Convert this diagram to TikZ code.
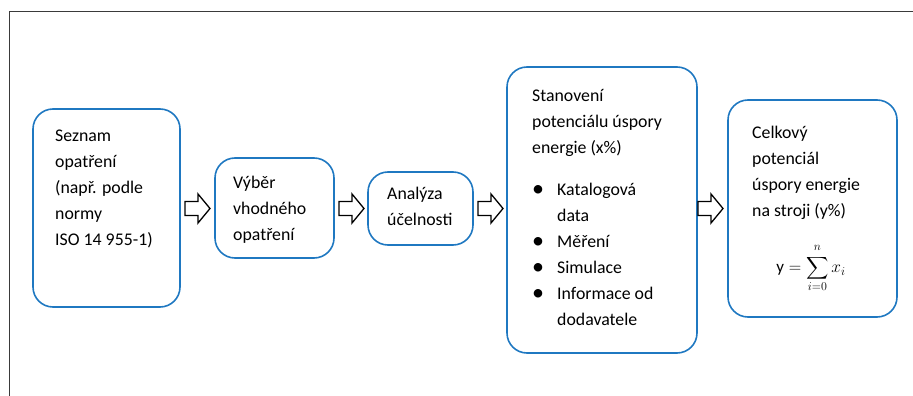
\documentclass[tikz,border=0pt]{standalone}
\usepackage{fontspec}
\usepackage{graphicx}
\setmainfont{Carlito}
\definecolor{boxblue}{HTML}{1F78C1}
\definecolor{framegray}{HTML}{3A3A3A}
\newcommand{\bigbul}{\makebox[25pt][l]{\hspace{0pt}\raisebox{-1pt}{\scalebox{1.35}{\textbullet}}}}
\begin{document}
\begin{tikzpicture}[x=1pt,y=-1pt,
  stepbox/.style={draw=boxblue,line width=1.6pt,rounded corners=20pt},
  boxtext/.style={anchor=north west,inner sep=0pt,align=left,font=\fontsize{17.8}{26}\selectfont},
  blockarrow/.style={draw=black,line width=1.3pt,fill=white,line join=miter}]
\useasboundingbox (0,0) rectangle (913,396);
% frame
\coordinate (ftl) at (9,12);
\coordinate (ftr) at (913,12);
\coordinate (fbl) at (9,396);
\draw[framegray,line width=1pt] (ftr) -- (ftl) -- (fbl);
% boxes
\draw[stepbox] (33,109) rectangle (180,307);
\draw[stepbox] (215,158) rectangle (334,258);
\draw[stepbox] (368,172) rectangle (473,245);
\draw[stepbox] (507,67) rectangle (697,353);
\draw[stepbox] (728,100) rectangle (897,317);
% texts
\node[boxtext] (t1) at (55,123.3) {\strut Seznam\\opatření\\(např. podle\\normy\\ISO 14 955-1)};
\node[boxtext] (t2) at (233,169.8) {\strut Výběr\\vhodného\\opatření};
\node[boxtext] (t3) at (387,180.8) {\strut Analýza\\účelnosti};
\node[boxtext] (t4) at (532,83.3) {\strut Stanovení\\potenciálu úspory\\energie (x\%)\\[16pt]
\bigbul Katalogová\\
\hspace*{25pt}data\\
\bigbul Měření\\
\bigbul Simulace\\
\bigbul Informace od\\
\hspace*{25pt}dodavatele};
\node[boxtext] (t5) at (752,119.8) {\strut Celkový\\potenciál\\úspory energie\\na stroji (y\%)};
\node[inner sep=0pt,font=\fontsize{17}{20}\selectfont] (f5) at (811,268) {$\displaystyle \mathrm{y}=\mathop{\vcenter{\hbox{\scalebox{1.55}{$\displaystyle\sum$}}}}\limits_{\raisebox{-2pt}{$\scriptstyle i=0$}}^{\raisebox{3pt}{$\scriptstyle n$}} x_i$};
% arrows
\foreach \a/\xa/\xb in {a1/185/210, a2/339/364, a3/478/503, a4/698/723} {
  \draw[blockarrow] (\xa,201.5) -- (\xb-12,201.5) -- (\xb-12,194) -- (\xb,208.5) -- (\xb-12,223) -- (\xb-12,215.5) -- (\xa,215.5) -- cycle;
}
\end{tikzpicture}
\end{document}
